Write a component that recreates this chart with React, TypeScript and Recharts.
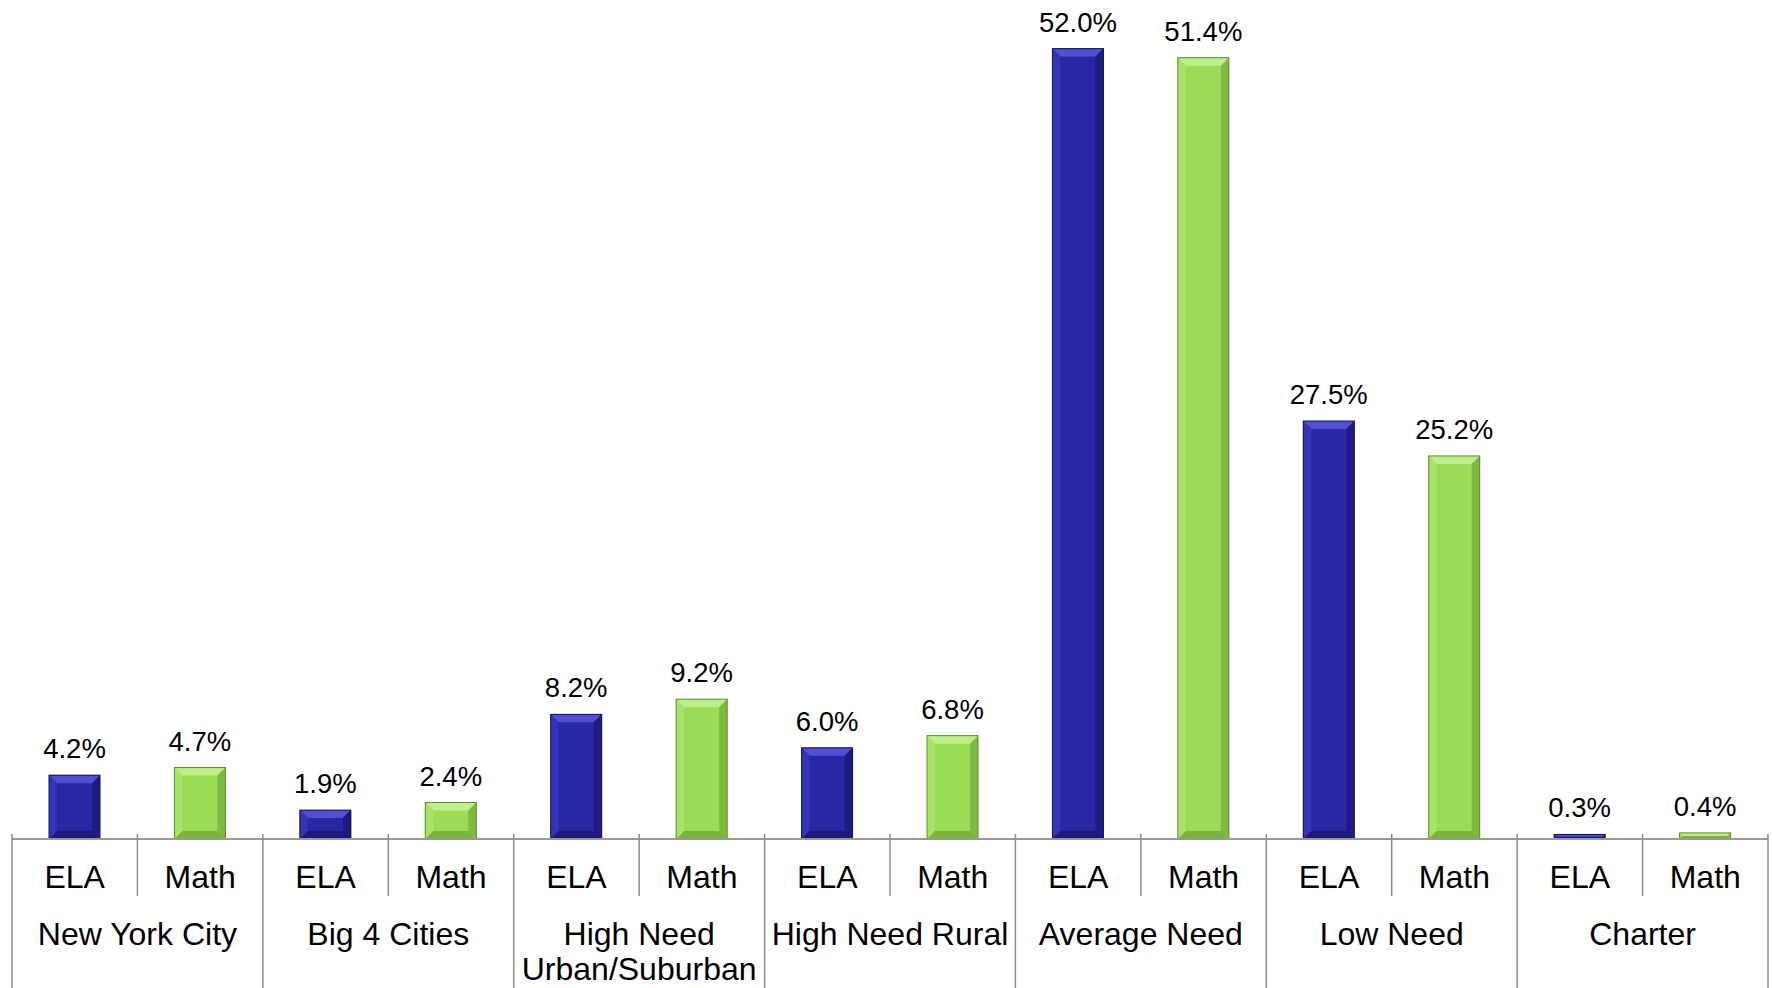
import { Bar, BarChart, LabelList, XAxis, YAxis } from "recharts";

const groups = [
  "New York City",
  "Big 4 Cities",
  "High Need Urban/Suburban",
  "High Need Rural",
  "Average Need",
  "Low Need",
  "Charter",
];
const subjects = ["ELA", "Math"];
const elaValues = [4.2, 1.9, 8.2, 6.0, 52.0, 27.5, 0.3];
const mathValues = [4.7, 2.4, 9.2, 6.8, 51.4, 25.2, 0.4];

const data = groups.flatMap((group, i) => [
  { group, subject: subjects[0], value: elaValues[i] },
  { group, subject: subjects[1], value: mathValues[i] },
]);

const W = 1772;
const H = 988;
const M = { top: 3, right: 4, left: 12, bottom: 0 };
const PLOT_W = W - M.left - M.right;
const GROUP_W = PLOT_W / groups.length;
const SUB_H = 57;
const GROUP_H = 92;
const FONT = "'Liberation Sans', Arial, sans-serif";
const AXIS_FS = 32;
const LINE = "#8c8c8c";

const palette: Record<string, any> = {
  ELA: {
    base: "#2828a6",
    top: "#5050d2",
    left: "#3434b6",
    right: "#1c1c84",
    bottom: "#1a1a7a",
    edge: "#12124e",
  },
  Math: {
    base: "#99dc55",
    top: "#bdf08a",
    left: "#a6e366",
    right: "#7cbb40",
    bottom: "#79b43e",
    edge: "#5c8a2c",
  },
};

// greedy word wrap measured with a canvas
let ctx: CanvasRenderingContext2D | null = null;
function wrap(label: string, maxW: number): string[] {
  if (!ctx) ctx = document.createElement("canvas").getContext("2d");
  if (!ctx) return [label];
  ctx.font = `${AXIS_FS}px ${FONT}`;
  const lines: string[] = [];
  let cur = "";
  for (const word of label.split(" ")) {
    const next = cur ? cur + " " + word : word;
    if (cur && ctx.measureText(next).width > maxW) {
      lines.push(cur);
      cur = word;
    } else {
      cur = next;
    }
  }
  if (cur) lines.push(cur);
  return lines;
}

function BevelBar(props: any) {
  const { x, y, width: w, height: h, payload } = props;
  if (!h || h <= 0) return null;
  const c = palette[payload.subject];
  const b = Math.min(8, h / 2, w / 2);
  const pts = (a: number[][]) => a.map((p) => p.join(",")).join(" ");
  return (
    <g>
      <rect x={x} y={y} width={w} height={h} fill={c.base} />
      <polygon points={pts([[x, y], [x + w, y], [x + w - b, y + b], [x + b, y + b]])} fill={c.top} />
      <polygon points={pts([[x, y], [x + b, y + b], [x + b, y + h - b], [x, y + h]])} fill={c.left} />
      <polygon points={pts([[x + w, y], [x + w - b, y + b], [x + w - b, y + h - b], [x + w, y + h]])} fill={c.right} />
      <polygon points={pts([[x, y + h], [x + b, y + h - b], [x + w - b, y + h - b], [x + w, y + h]])} fill={c.bottom} />
      <rect x={x} y={y} width={w} height={h} fill="none" stroke={c.edge} strokeWidth={1} />
    </g>
  );
}

function SubjectTick(props: any) {
  const { x, y, payload, index } = props;
  const sepX = x + GROUP_W / 4;
  return (
    <g>
      <text x={x} y={y + 49} textAnchor="middle" fontSize={AXIS_FS} fontFamily={FONT} fill="#000">
        {payload.value}
      </text>
      {index % 2 === 0 && (
        <line x1={sepX} y1={y - 5} x2={sepX} y2={y + SUB_H} stroke={LINE} strokeWidth={1.5} />
      )}
    </g>
  );
}

function GroupTick(props: any) {
  const { x, y, payload, index } = props;
  const left = x - GROUP_W / 2;
  const right = x + GROUP_W / 2;
  const lines = wrap(String(payload.value), GROUP_W - 4);
  const top = y - SUB_H - 5;
  return (
    <g>
      <text textAnchor="middle" fontSize={AXIS_FS} fontFamily={FONT} fill="#000">
        {lines.map((ln, i) => (
          <tspan key={i} x={x} y={y + 49 + i * 35}>
            {ln}
          </tspan>
        ))}
      </text>
      <line x1={left} y1={top} x2={left} y2={H} stroke={LINE} strokeWidth={1.5} />
      {index === groups.length - 1 && (
        <line x1={right} y1={top} x2={right} y2={H} stroke={LINE} strokeWidth={1.5} />
      )}
    </g>
  );
}

export default function App() {
  return (
    <div style={{ position: "absolute", left: 0, top: 0, background: "#fff", width: W, height: H }}>
      <BarChart width={W} height={H} data={data} margin={M}>
        <YAxis hide domain={[0, 55]} />
        <XAxis
          dataKey="subject"
          interval={0}
          height={SUB_H}
          tickSize={0}
          tickMargin={0}
          tickLine={false}
          axisLine={{ stroke: "#999", strokeWidth: 2 }}
          tick={<SubjectTick />}
        />
        <XAxis
          xAxisId="group"
          dataKey="group"
          allowDuplicatedCategory={false}
          interval={0}
          height={GROUP_H}
          tickSize={0}
          tickMargin={0}
          tickLine={false}
          axisLine={false}
          tick={<GroupTick />}
        />
        <Bar dataKey="value" barSize={51} shape={BevelBar} isAnimationActive={false}>
          <LabelList
            dataKey="value"
            position="top"
            offset={17}
            fontSize={27.5}
            fontFamily={FONT}
            fill="#000"
            formatter={(v: any) => `${Number(v).toFixed(1)}%`}
          />
        </Bar>
      </BarChart>
    </div>
  );
}
